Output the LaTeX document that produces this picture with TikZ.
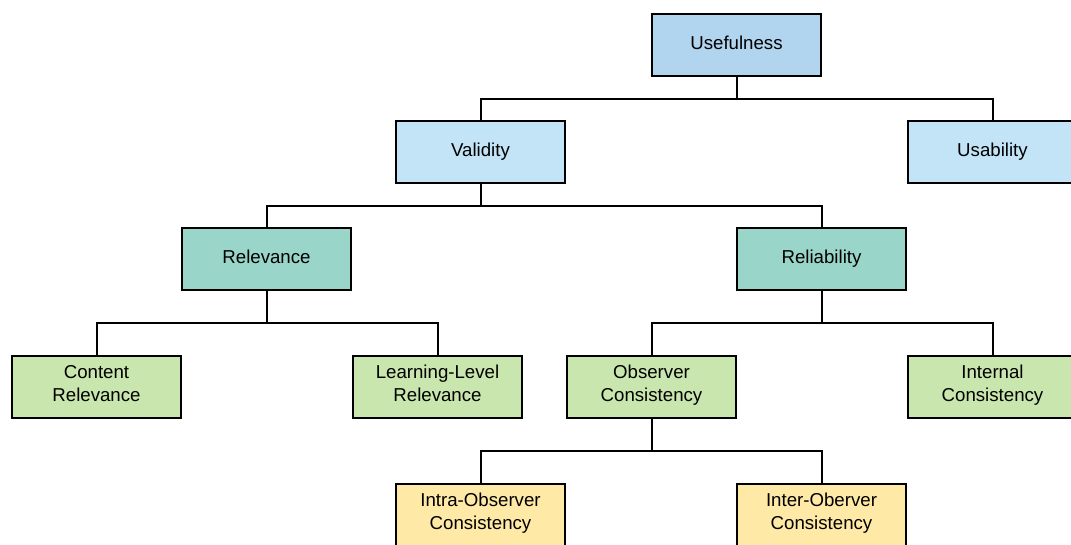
\documentclass[tikz,border=0pt]{standalone}
\usepackage{fontspec}
\setmainfont{Liberation Sans}
\usetikzlibrary{positioning}

\definecolor{topblue}{HTML}{B1D5EE}
\definecolor{lightblue}{HTML}{C2E4F6}
\definecolor{teal}{HTML}{9AD5C9}
\definecolor{lightgreen}{HTML}{C8E6AD}
\definecolor{lightyellow}{HTML}{FFE9A6}

\tikzset{
	box/.style={draw,line width=1.5pt,minimum width=127pt,minimum height=47pt,
		inner sep=0pt,align=center,font=\fontsize{14}{17.4}\selectfont,
		execute at begin node=\strut,execute at end node=\strut},
	link/.style={line width=1.5pt,to path={(\tikztostart) -- ++(0,#1) -| (\tikztotarget)}}
}

\begin{document}
\begin{tikzpicture}[x=0.75pt,y=-0.75pt]
			\useasboundingbox (0,0) rectangle (1071,544);
			\node[box,fill=topblue] (use) at (736.5,45) {Usefulness};
			\node[box,fill=lightblue] (val) at (480.5,152) {Validity};
			\node[box,fill=lightblue] (usab) at (992.5,152) {Usability};
			\node[box,fill=teal] (relev) at (266.5,259) {Relevance};
			\node[box,fill=teal] (relia) at (821.5,259) {Reliability};
			\node[box,fill=lightgreen] (cont) at (96.5,387) {Content\\Relevance};
			\node[box,fill=lightgreen] (learn) at (437.5,387) {Learning-Level\\Relevance};
			\node[box,fill=lightgreen] (obs) at (651.5,387) {Observer\\Consistency};
			\node[box,fill=lightgreen] (intern) at (992.5,387) {Internal\\Consistency};
			\node[box,fill=lightyellow] (intra) at (480.5,515) {Intra-Observer\\Consistency};
			\node[box,fill=lightyellow] (inter) at (821.5,515) {Inter-Oberver\\Consistency};
			% connectors
			\draw (use.south) edge[link=22] (val.north) edge[link=22] (usab.north);
			\draw (val.south) edge[link=22] (relev.north) edge[link=22] (relia.north);
			\draw (relev.south) edge[link=32] (cont.north) edge[link=32] (learn.north);
			\draw (relia.south) edge[link=32] (obs.north) edge[link=32] (intern.north);
			\draw (obs.south) edge[link=32] (intra.north) edge[link=32] (inter.north);
\end{tikzpicture}
\end{document}
